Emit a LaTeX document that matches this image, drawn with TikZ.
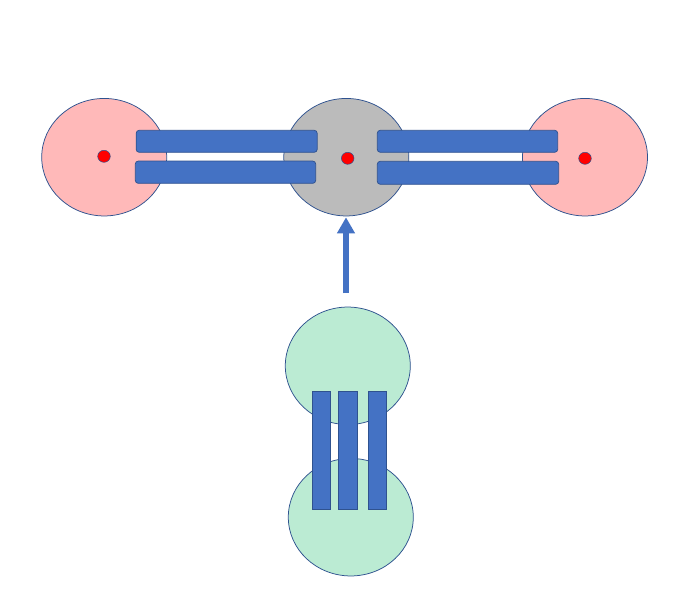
\documentclass[tikz,border=0pt]{standalone}
\usetikzlibrary{shapes.geometric,arrows.meta}
\definecolor{edgeblue}{HTML}{2F528F}
\definecolor{barblue}{HTML}{4472C4}
\definecolor{pinkfill}{HTML}{FFB9B9}
\definecolor{grayfill}{HTML}{BBBBBB}
\definecolor{greenfill}{HTML}{BBEBD3}
\tikzset{
  ell/.style={ellipse, draw=edgeblue, line width=0.75pt, inner sep=0pt, minimum width=125pt, minimum height=117.5pt},
  pinkell/.style={ell, fill=pinkfill},
  grayell/.style={ell, fill=grayfill},
  greenell/.style={ell, fill=greenfill},
  reddot/.style={ellipse, draw=edgeblue, line width=0.5pt, fill=red, inner sep=0pt, minimum width=12.6pt, minimum height=12pt},
  hbar/.style={rectangle, rounded corners=3pt, draw=edgeblue, line width=0.75pt, fill=barblue, inner sep=0pt},
  vbar/.style={rectangle, draw=edgeblue, line width=0.75pt, fill=barblue, inner sep=0pt, minimum height=118pt},
  arr/.style={draw=barblue, line width=5.3pt, -{Triangle[width=17pt,length=16pt]}}
}
\begin{document}
\begin{tikzpicture}[x=1pt,y=-1pt]
\useasboundingbox (0,0) rectangle (697,591);
% top row ellipses
\node[pinkell] (lefte) at (104.2,157.2) {};
\node[grayell] (mide) at (346.3,157.2) {};
\node[pinkell] (righte) at (585,157.2) {};
% dots
\node[reddot] (ldot) at (104,156.3) {};
\node[reddot] (mdot) at (347.7,158.3) {};
\node[reddot] (rdot) at (585,158.3) {};
% horizontal bars
\node[hbar, minimum width=181pt, minimum height=22pt] (lt) at (226.7,141.3) {};
\node[hbar, minimum width=180.4pt, minimum height=22.3pt] (lb) at (225.5,172.2) {};
\node[hbar, minimum width=180.4pt, minimum height=22pt] (rt) at (467.5,141.3) {};
\node[hbar, minimum width=181.4pt, minimum height=23pt] (rb) at (468,172.8) {};
% green ellipses
\node[greenell] (gtop) at (347.8,365.8) {};
\node[greenell] (gbot) at (350.8,517.2) {};
% vertical bars
\node[vbar, minimum width=18.4pt] (v1) at (321.5,450.3) {};
\node[vbar, minimum width=19.4pt] (v2) at (348,450.3) {};
\node[vbar, minimum width=18.4pt] (v3) at (377.5,450.3) {};
% arrow
\coordinate (astart) at (346,293.3);
\coordinate (aend) at (346,217.3);
\draw[arr] (astart) -- (aend);
\end{tikzpicture}
\end{document}
